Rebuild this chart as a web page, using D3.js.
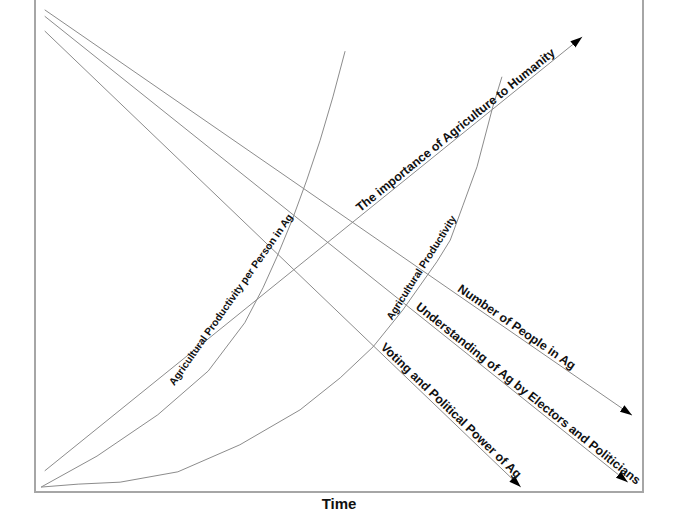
<!DOCTYPE html>
<html>
<head>
<meta charset="utf-8">
<script src="https://cdn.jsdelivr.net/npm/d3@7"></script>
<style>
  body { margin: 0; background: #fff; }
  svg text { font-family: "Liberation Sans", Arial, sans-serif; font-weight: bold; fill: #111; }
</style>
</head>
<body>
<svg id="chart"></svg>
<script>
// time runs 0..100 left to right, level 0..100 bottom to top
const lineNames = [
  'Number of People in Ag',
  'Understanding of Ag by Electors and Politicians',
  'Voting and Political Power of Ag',
  'The importance of Agriculture to Humanity'
]
const lineTime  = [[1.6, 98.2], [1.6, 97.5], [1.6, 79.9], [1.6, 90.0]]
const lineLevel = [[98.0, 15.6], [96.7, 2.0], [93.7, 1.0], [4.3, 92.5]]

const curveNames = ['Agricultural Productivity per Person in Ag', 'Agricultural Productivity']
const perPersonTime  = [1.0, 10.2, 20.2, 28.5, 34.5, 37.5, 39.8, 42.3, 44.7, 46.9, 49.0, 51.0]
const perPersonLevel = [1.0, 7.3, 15.7, 24.6, 34.4, 41.5, 47.8, 55.3, 63.4, 71.5, 80.3, 89.6]
const productivityTime  = [1.0, 7.1, 14.0, 23.5, 33.7, 43.6, 50.2, 55.6, 60.5, 66.1, 68.3, 70.4, 72.7, 75.3, 76.8]
const productivityLevel = [1.0, 1.6, 2.0, 4.1, 9.6, 16.7, 23.2, 29.5, 37.0, 46.8, 51.2, 58.3, 66.1, 78.3, 84.4]

const xTitle = 'Time'

const width = 680, height = 517
const left = 35, right = 37, bottom = 25

const svg = d3.select('#chart').attr('width', width).attr('height', height)

const x = d3.scaleLinear().domain([0, 100]).range([left, width - right])
const y = d3.scaleLinear().domain([0, 100]).range([height - bottom, 0])

svg.append('defs').append('marker')
  .attr('id', 'arrow')
  .attr('markerUnits', 'userSpaceOnUse')
  .attr('markerWidth', 13).attr('markerHeight', 9)
  .attr('refX', 12).attr('refY', 4)
  .attr('orient', 'auto')
  .append('path').attr('d', 'M0,0 L12,4 L0,8 Z').attr('fill', '#000')

// frame, top runs off the picture
svg.append('path')
  .attr('d', `M${x(0)},-5 V${y(0)} H${x(100)} V-5`)
  .attr('fill', 'none').attr('stroke', '#a6a6a6').attr('stroke-width', 2)

const line = d3.line().x(d => x(d[0])).y(d => y(d[1]))

lineNames.forEach((name, i) => {
  const pts = lineTime[i].map((t, j) => [t, lineLevel[i][j]])
  svg.append('path')
    .attr('d', line(pts))
    .attr('fill', 'none').attr('stroke', '#8c8c8c').attr('stroke-width', 1)
    .attr('marker-end', 'url(#arrow)')
})

const curves = [
  perPersonTime.map((t, j) => [t, perPersonLevel[j]]),
  productivityTime.map((t, j) => [t, productivityLevel[j]])
]
curves.forEach(pts => {
  svg.append('path')
    .attr('d', line(pts))
    .attr('fill', 'none').attr('stroke', '#8c8c8c').attr('stroke-width', 1)
})

// labels sit on their lines, starting at a given time
const lineLabelStart = [69.1, 62.2, 56.4, 53.8]
lineNames.forEach((name, i) => {
  const [t0, t1] = lineTime[i], [v0, v1] = lineLevel[i]
  const ang = Math.atan2(y(v1) - y(v0), x(t1) - x(t0)) * 180 / Math.PI
  const t = lineLabelStart[i]
  const v = v0 + (v1 - v0) * (t - t0) / (t1 - t0)
  svg.append('text')
    .attr('transform', `translate(${x(t)},${y(v)}) rotate(${ang})`)
    .attr('dy', -3)
    .style('font-size', '12.4px')
    .text(name)
})

const curveLabelAt = [[22.9, 21.5, -54.9], [58.7, 34.8, -57.7]]
curveNames.forEach((name, i) => {
  const [t, v, ang] = curveLabelAt[i]
  svg.append('text')
    .attr('transform', `translate(${x(t)},${y(v)}) rotate(${ang})`)
    .style('font-size', '10.4px')
    .text(name)
})

svg.append('text')
  .attr('x', (x(0) + x(100)) / 2)
  .attr('y', height - 8)
  .attr('text-anchor', 'middle')
  .style('font-size', '15px')
  .text(xTitle)
</script>
</body>
</html>
